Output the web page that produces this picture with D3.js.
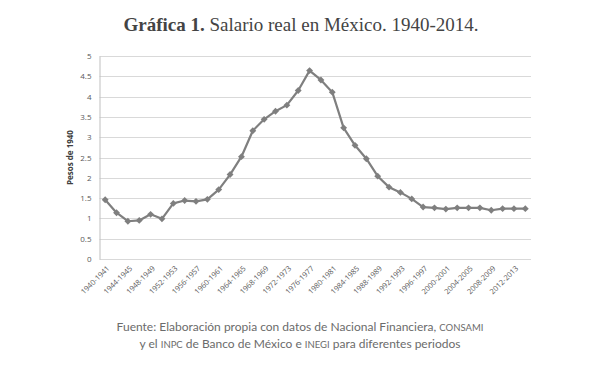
<!DOCTYPE html>
<html>
<head>
<meta charset="utf-8">
<script src="https://cdn.jsdelivr.net/npm/d3@7"></script>
<style>
  body { margin: 0; background: #fff; }
  svg { display: block; }
</style>
</head>
<body>
<svg id="chart" width="600" height="384"></svg>
<script>
// periodos (uno cada dos años), la ultima categoria no lleva etiqueta
const periodos = [
  "1940-1941","1942-1943","1944-1945","1946-1947","1948-1949","1950-1951",
  "1952-1953","1954-1955","1956-1957","1958-1959","1960-1961","1962-1963",
  "1964-1965","1966-1967","1968-1969","1970-1971","1972-1973","1974-1975",
  "1976-1977","1978-1979","1980-1981","1982-1983","1984-1985","1986-1987",
  "1988-1989","1990-1991","1992-1993","1994-1995","1996-1997","1998-1999",
  "2000-2001","2002-2003","2004-2005","2006-2007","2008-2009","2010-2011",
  "2012-2013","2014"
];
const salario = [
  1.46, 1.14, 0.93, 0.95, 1.10, 0.99, 1.37, 1.44, 1.42, 1.47, 1.71, 2.08,
  2.52, 3.16, 3.44, 3.64, 3.79, 4.15, 4.64, 4.41, 4.11, 3.23, 2.80, 2.47,
  2.04, 1.77, 1.64, 1.48, 1.28, 1.26, 1.23, 1.26, 1.26, 1.26, 1.20, 1.24,
  1.24, 1.24
];
const yTicks = [0, 0.5, 1, 1.5, 2, 2.5, 3, 3.5, 4, 4.5, 5];

const svg = d3.select("#chart");
const plotL = 99.5, plotR = 531, plotT = 56, plotB = 259;

const x = d3.scaleBand().domain(periodos).range([plotL, plotR]);
const y = d3.scaleLinear().domain([0, 5]).range([plotB, plotT]);

// titulo
const title = svg.append("text")
  .attr("x", 301).attr("y", 31)
  .attr("text-anchor", "middle")
  .style("font-family", "'Liberation Serif', serif")
  .style("font-size", "19px")
  .style("fill", "#444");
title.append("tspan").style("font-weight", "bold").text("Gráfica 1.");
title.append("tspan").text(" Salario real en México. 1940-2014.");

// rejilla
svg.append("g").selectAll("line")
  .data(yTicks)
  .join("line")
  .attr("x1", plotL).attr("x2", plotR)
  .attr("y1", d => Math.round(y(d)) + 0.5).attr("y2", d => Math.round(y(d)) + 0.5)
  .style("stroke", "#d9d9d9")
  .style("stroke-width", 1);

// eje y
const yAxis = svg.append("g")
  .attr("transform", "translate(" + plotL + ",0)")
  .call(d3.axisLeft(y).tickValues(yTicks).tickSize(0).tickPadding(8)
    .tickFormat(d => String(d)));
yAxis.select(".domain").style("stroke", "#bfbfbf");
yAxis.selectAll("text")
  .style("font-family", "'Open Sans', sans-serif")
  .style("font-size", "8px")
  .style("fill", "#595959");

svg.append("text")
  .attr("transform", "translate(73," + ((plotT + plotB) / 2) + ") rotate(-90)")
  .attr("text-anchor", "middle")
  .style("font-family", "'Open Sans', sans-serif")
  .style("font-size", "8px")
  .style("font-weight", "bold")
  .style("fill", "#404040")
  .text("Pesos de 1940");

// eje x (etiquetas cada dos periodos)
const xAxis = svg.append("g")
  .attr("transform", "translate(0," + plotB + ")")
  .call(d3.axisBottom(x).tickValues(periodos.filter((d, i) => i % 2 === 0 && i < 37))
    .tickSize(0).tickPadding(0));
xAxis.select(".domain").remove();
xAxis.selectAll("text")
  .attr("text-anchor", "end")
  .attr("transform", "translate(3,8) rotate(-45)")
  .attr("dy", "0.35em")
  .attr("y", 0)
  .style("font-family", "'Open Sans', sans-serif")
  .style("font-size", "7.5px")
  .style("fill", "#595959");

// linea
const line = d3.line()
  .x((d, i) => x(periodos[i]) + x.bandwidth() / 2)
  .y(d => y(d));

svg.append("path")
  .datum(salario)
  .attr("d", line)
  .style("fill", "none")
  .style("stroke", "#7f7f7f")
  .style("stroke-width", 2.2)
  .style("stroke-linejoin", "round");

svg.append("g").selectAll("path")
  .data(salario)
  .join("path")
  .attr("d", d3.symbol(d3.symbolDiamond2, 30))
  .attr("transform", (d, i) => "translate(" + (x(periodos[i]) + x.bandwidth() / 2) + "," + y(d) + ")")
  .style("fill", "#7f7f7f");

// fuente
const f1 = svg.append("text")
  .attr("x", 300).attr("y", 331)
  .attr("text-anchor", "middle")
  .style("font-family", "Lato, sans-serif")
  .style("font-size", "12px")
  .style("fill", "#6b6b6b");
f1.append("tspan").text("Fuente: Elaboración propia con datos de Nacional Financiera, ");
f1.append("tspan").style("font-size", "9.5px").text("CONSAMI");

const f2 = svg.append("text")
  .attr("x", 300).attr("y", 348)
  .attr("text-anchor", "middle")
  .style("font-family", "Lato, sans-serif")
  .style("font-size", "12px")
  .style("fill", "#6b6b6b");
f2.append("tspan").text("y el ");
f2.append("tspan").style("font-size", "9.5px").text("INPC");
f2.append("tspan").text(" de Banco de México e ");
f2.append("tspan").style("font-size", "9.5px").text("INEGI");
f2.append("tspan").text(" para diferentes periodos");
</script>
</body>
</html>
